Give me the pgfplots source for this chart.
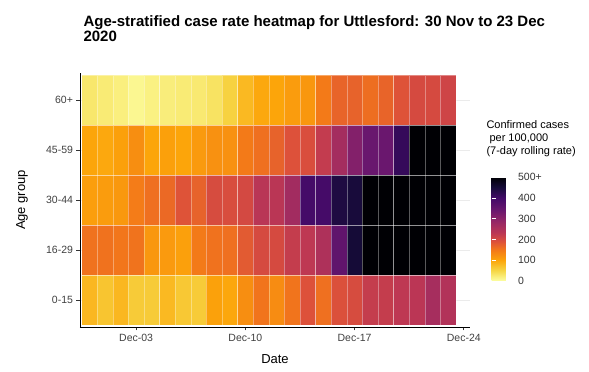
\documentclass[border=0pt]{standalone}
\usepackage{fontspec}
\setmainfont{Liberation Sans}
\usepackage{pgfplots}
\pgfplotsset{compat=1.18}

% reversed inferno, squeezed towards the low end like the reference legend
\pgfplotsset{colormap={infernor}{
  rgb255(0pt)=(252,255,164) rgb255(50pt)=(246,215,70) rgb255(100pt)=(252,165,10)
  rgb255(150pt)=(243,120,25) rgb255(190pt)=(221,81,58) rgb255(230pt)=(188,55,84)
  rgb255(290pt)=(147,38,103) rgb255(340pt)=(106,23,110) rgb255(400pt)=(66,10,104)
  rgb255(450pt)=(22,11,57) rgb255(500pt)=(0,0,4)}}

\begin{document}
\begin{tikzpicture}[x=1pt,y=1pt]
\path[use as bounding box] (0,0) rectangle (589,372);

\node[anchor=base west, font=\fontsize{15}{16}\selectfont\bfseries] at (80,345)
  {Age-stratified case rate heatmap for Uttlesford: 30 Nov to 23 Dec};
\node[anchor=base west, font=\fontsize{15}{16}\selectfont\bfseries] at (80,330) {2020};

\begin{axis}[
    at={(80pt,45pt)}, anchor=south west,
    width=390pt, height=254pt, scale only axis,
    xmin=-0.6, xmax=24.4, ymin=0.46, ymax=5.54,
    axis x line*=bottom, axis y line*=left,
    axis line style={-, black, line width=0.8pt},
    xtick={3,10,17,24},
    xticklabels={Dec-03,Dec-10,Dec-17,Dec-24},
    ytick={1,2,3,4,5},
    yticklabels={0-15,16-29,30-44,45-59,60+},
    tick align=outside, major tick length=3.5pt,
    tick style={black!80, line width=0.6pt},
    ticklabel style={font=\fontsize{10.5}{12}\selectfont, text=black!75},
    ymajorgrids, grid style={black!8, line width=0.6pt},
    xlabel={Date}, ylabel={Age group},
    label style={font=\fontsize{13}{14}\selectfont},
    xlabel style={at={(axis description cs:0.5,0)}, anchor=base, yshift=-37pt},
    ylabel style={at={(axis description cs:-0.149,0.5)}, anchor=center},
    colormap name=infernor,
    point meta min=0, point meta max=500,
    colorbar,
    colorbar style={
        at={(483pt,91pt)}, anchor=south west,
        width=22pt, height=104pt, scale only axis,
        ytick={0,100,200,300,400,500},
        yticklabels={0,100,200,300,400,500+},
        ytick pos=both, yticklabel pos=right,
        tick align=inside, major tick length=4pt,
        ytick style={white, line width=0.6pt},
        axis line style={draw=none},
        yticklabel style={font=\fontsize{10.5}{12}\selectfont, text=black!80, xshift=1pt},
    },
]
\addplot[matrix plot*, shader=faceted, faceted color=white, line width=0.5pt,
    draw opacity=0.35, mesh/cols=24, point meta=explicit]
  table[meta=c, row sep=\\] {
x y c\\
0 1 82\\ 1 1 68\\ 2 1 82\\ 3 1 62\\ 4 1 62\\ 5 1 80\\ 6 1 65\\ 7 1 62\\ 8 1 104\\ 9 1 98\\ 10 1 125\\ 11 1 154\\
12 1 128\\ 13 1 154\\ 14 1 190\\ 15 1 158\\ 16 1 192\\ 17 1 198\\ 18 1 220\\ 19 1 220\\ 20 1 228\\ 21 1 232\\ 22 1 262\\ 23 1 245\\
0 2 156\\ 1 2 156\\ 2 2 152\\ 3 2 155\\ 4 2 116\\ 5 2 112\\ 6 2 106\\ 7 2 148\\ 8 2 156\\ 9 2 158\\ 10 2 180\\ 11 2 200\\
12 2 200\\ 13 2 220\\ 14 2 228\\ 15 2 250\\ 16 2 355\\ 17 2 452\\ 18 2 530\\ 19 2 580\\ 20 2 620\\ 21 2 640\\ 22 2 650\\ 23 2 660\\
0 3 108\\ 1 3 110\\ 2 3 114\\ 3 3 146\\ 4 3 158\\ 5 3 165\\ 6 3 188\\ 7 3 172\\ 8 3 198\\ 9 3 196\\ 10 3 202\\ 11 3 235\\
12 3 233\\ 13 3 268\\ 14 3 395\\ 15 3 395\\ 16 3 440\\ 17 3 448\\ 18 3 520\\ 19 3 560\\ 20 3 600\\ 21 3 620\\ 22 3 640\\ 23 3 650\\
0 4 100\\ 1 4 97\\ 2 4 105\\ 3 4 125\\ 4 4 100\\ 5 4 105\\ 6 4 100\\ 7 4 112\\ 8 4 122\\ 9 4 122\\ 10 4 148\\ 11 4 158\\
12 4 172\\ 13 4 190\\ 14 4 195\\ 15 4 222\\ 16 4 265\\ 17 4 310\\ 18 4 342\\ 19 4 340\\ 20 4 415\\ 21 4 540\\ 22 4 560\\ 23 4 580\\
0 5 30\\ 1 5 25\\ 2 5 20\\ 3 5 10\\ 4 5 18\\ 5 5 22\\ 6 5 25\\ 7 5 27\\ 8 5 35\\ 9 5 55\\ 10 5 80\\ 11 5 97\\
12 5 100\\ 13 5 110\\ 14 5 115\\ 15 5 148\\ 16 5 170\\ 17 5 172\\ 18 5 160\\ 19 5 170\\ 20 5 188\\ 21 5 200\\ 22 5 200\\ 23 5 208\\
};
\end{axis}

\node[anchor=base west, font=\fontsize{11}{13}\selectfont] at (483,243) {Confirmed cases};
\node[anchor=base west, font=\fontsize{11}{13}\selectfont] at (486,230) {per 100,000};
\node[anchor=base west, font=\fontsize{11}{13}\selectfont] at (483,217) {(7-day rolling rate)};
\end{tikzpicture}
\end{document}
